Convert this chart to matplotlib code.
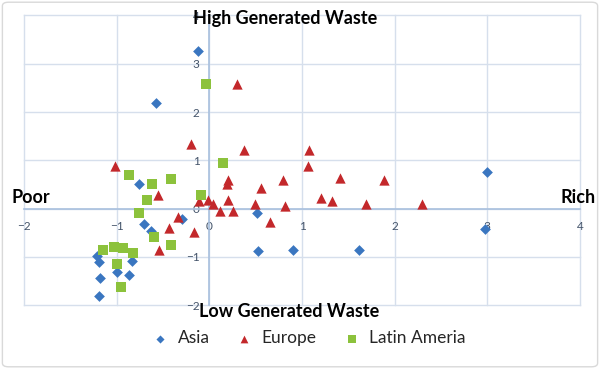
import matplotlib
matplotlib.use("Agg")
import matplotlib.pyplot as plt
from matplotlib.patches import FancyBboxPatch

# ---------------- datos ----------------
asia_x = [-0.12, -0.58, 3.00, 2.98, 1.61, 0.90, 0.52, 0.51, -0.29, -0.76,
          -0.70, -0.63, -1.21, -1.19, -1.18, -1.19, -1.00, -0.87, -0.83]
asia_y = [3.27, 2.19, 0.75, -0.43, -0.87, -0.85, -0.89, -0.10, -0.21, 0.50,
          -0.33, -0.46, -0.99, -1.10, -1.45, -1.81, -1.32, -1.38, -1.09]

europe_x = [0.30, -0.20, 0.37, 1.08, 1.07, -1.02, -0.55, 0.20, 0.19, 0.80,
            0.56, 0.20, 0.49, 0.82, 0.12, 0.25, 0.65, -0.01, 0.04, -0.11,
            -0.34, -0.44, -0.17, -0.54, 1.41, 1.89, 1.20, 1.32, 1.69, 2.29]
europe_y = [2.57, 1.34, 1.22, 1.22, 0.88, 0.89, 0.29, 0.60, 0.50, 0.60,
            0.42, 0.17, 0.09, 0.05, -0.06, -0.06, -0.27, 0.17, 0.10, 0.16,
            -0.17, -0.41, -0.48, -0.87, 0.63, 0.60, 0.21, 0.15, 0.09, 0.09]

latam_x = [-0.04, 0.15, -0.09, -0.87, -0.41, -0.62, -0.67, -0.76, -0.60, -0.41,
           -1.15, -1.03, -0.93, -0.82, -1.00, -0.95]
latam_y = [2.57, 0.95, 0.27, 0.70, 0.62, 0.50, 0.17, -0.10, -0.60, -0.75,
           -0.85, -0.79, -0.81, -0.93, -1.14, -1.63]

x_ticks = [-2, -1, 0, 1, 2, 3, 4]
y_ticks = [-2, -1, 0, 1, 2, 3, 4]

C_ASIA, C_EUR, C_LAT = "#3A76C0", "#C3282B", "#8CC23C"
GRID = "#D6DFEC"
AXIS = "#A9C0DE"
TICKC = "#44546A"
FONT = "Lato"

fig = plt.figure(figsize=(6.0, 3.69), dpi=100)
fig.patch.set_facecolor("white")
fig.patches.append(FancyBboxPatch((0.004, 0.006), 0.992, 0.988, transform=fig.transFigure,
                                  boxstyle="round,pad=0,rounding_size=0.01",
                                  fc="none", ec="#D9D9D9", lw=1.0))

ax = fig.add_axes([0.04, 0.1734, 0.9267, 0.7846])
ax.set_xlim(-2, 4); ax.set_ylim(-2, 4)
ax.set_xticks(x_ticks); ax.set_yticks(y_ticks)
ax.grid(True, color=GRID, lw=1.0, zorder=0)
ax.set_axisbelow(True)

for s in ["top", "right"]:
    ax.spines[s].set_visible(False)
for s in ["left", "bottom"]:
    ax.spines[s].set_position(("data", 0))
    ax.spines[s].set_color(AXIS)
    ax.spines[s].set_linewidth(1.2)
    ax.spines[s].set_zorder(1)

ax.tick_params(length=0, labelsize=8.5, labelcolor=TICKC)
ax.tick_params(axis="x", pad=9)
ax.tick_params(axis="y", pad=7)
for lb in ax.get_xticklabels() + ax.get_yticklabels():
    lb.set_fontfamily(FONT)

ax.scatter(asia_x, asia_y, marker="D", s=30, c=C_ASIA, lw=0, label="Asia", zorder=3, clip_on=False)
ax.scatter(europe_x, europe_y, marker="^", s=55, c=C_EUR, lw=0, label="Europe", zorder=3, clip_on=False)
ax.scatter(latam_x, latam_y, marker="s", s=48, c=C_LAT, lw=0, label="Latin Ameria", zorder=3, clip_on=False)

# marco = lineas de grid exteriores (sin recortar)
fig.canvas.draw()
for gl in ax.xaxis.get_gridlines() + ax.yaxis.get_gridlines():
    gl.set_clip_on(False)

kw = dict(fontsize=13, fontweight="bold", family=FONT, color="black", va="center")
fig.text(0.322, 0.951, "High Generated Waste", ha="left", **kw)
fig.text(0.332, 0.157, "Low Generated Waste", ha="left", **kw)
fig.text(0.019, 0.466, "Poor", ha="left", **kw)
fig.text(0.992, 0.466, "Rich", ha="right", **kw)

leg = fig.legend(loc="center", bbox_to_anchor=(0.507, 0.083), ncol=3, frameon=False,
                 prop={"family": FONT, "size": 12.5}, handletextpad=0.0, columnspacing=1.0,
                 markerscale=0.75, borderaxespad=0)
for t in leg.get_texts():
    t.set_color("#262626")

fig.savefig("out.png", dpi=100)
